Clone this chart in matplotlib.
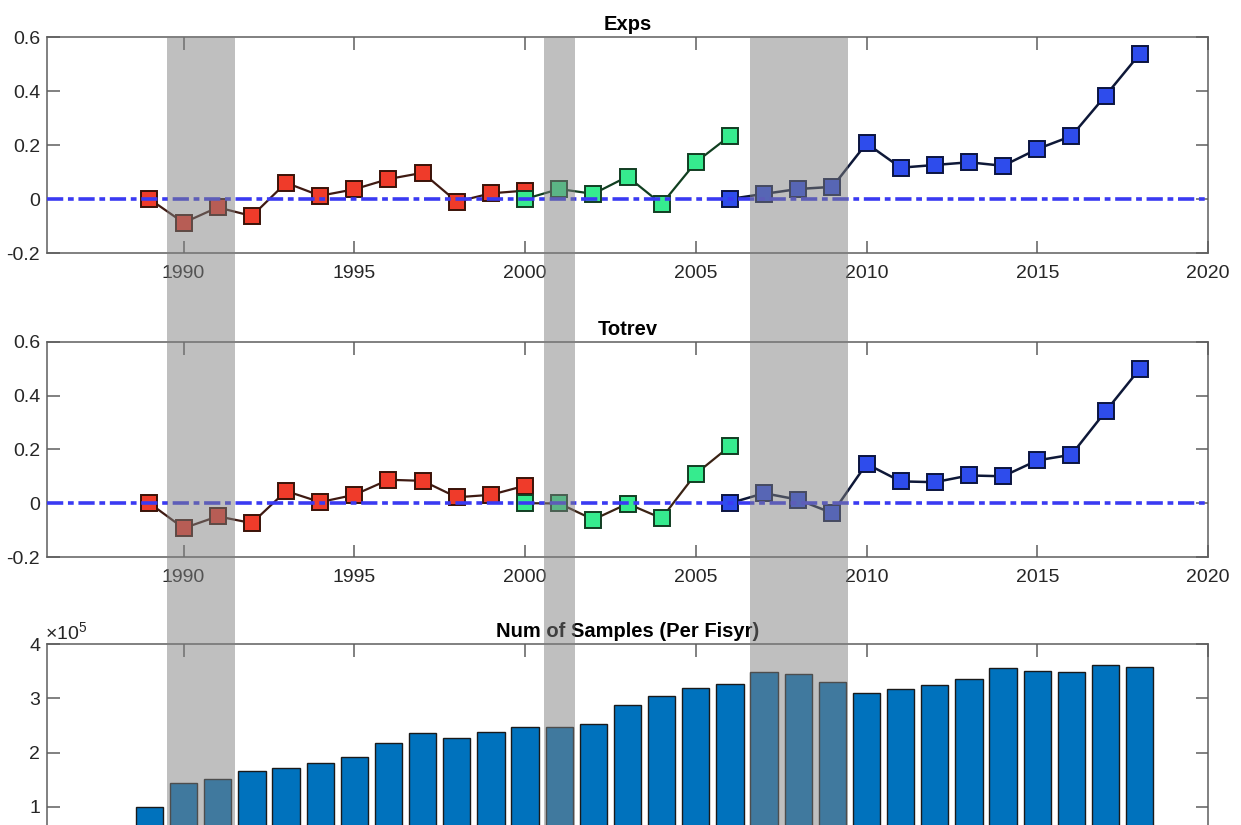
import numpy as np
import matplotlib
matplotlib.use('Agg')
import matplotlib.pyplot as plt
from matplotlib.patches import Rectangle
from matplotlib.transforms import blended_transform_factory
from matplotlib.ticker import FixedLocator, FuncFormatter

plt.rcParams['font.family'] = ['Liberation Sans', 'DejaVu Sans']
plt.rcParams['mathtext.fontset'] = 'custom'
plt.rcParams['mathtext.rm'] = 'Liberation Sans'
plt.rcParams['mathtext.it'] = 'Liberation Sans'

# fiscal years for each regime
yrs_red = list(range(1989, 2001))
yrs_green = list(range(2000, 2007))
yrs_blue = list(range(2006, 2019))

exps_red = [0.0, -0.088, -0.031, -0.063, 0.060, 0.012, 0.036, 0.074, 0.097, -0.010, 0.021, 0.031]
exps_green = [0.0, 0.037, 0.019, 0.083, -0.019, 0.136, 0.234]
exps_blue = [0.0, 0.019, 0.037, 0.045, 0.206, 0.116, 0.126, 0.136, 0.123, 0.185, 0.233, 0.383, 0.537]

totrev_red = [0.0, -0.093, -0.049, -0.074, 0.045, 0.004, 0.031, 0.087, 0.083, 0.022, 0.031, 0.065]
totrev_green = [0.0, -0.001, -0.061, -0.002, -0.056, 0.109, 0.212]
totrev_blue = [0.0, 0.037, 0.013, -0.037, 0.146, 0.081, 0.078, 0.103, 0.100, 0.159, 0.180, 0.341, 0.499]

sample_years = list(range(1989, 2019))
num_samples = [100000, 143000, 152000, 165000, 172000, 180000, 192000, 218000, 237000, 227000,
               238000, 247000, 247000, 253000, 288000, 305000, 319000, 326000, 349000, 345000,
               330000, 310000, 317000, 324000, 335000, 356000, 351000, 349000, 361000, 358000]

# recession periods
recessions = [(1989.5, 1991.5), (2000.55, 2001.45), (2006.6, 2009.45)]

W, H = 1241, 825
fig = plt.figure(figsize=(W / 100, H / 100), dpi=100)

left = 47 / W
width = (1208 - 47) / W
def frac(top_px, bot_px):
    return [left, 1 - bot_px / H, width, (bot_px - top_px) / H]

ax1 = fig.add_axes(frac(37, 253))
ax2 = fig.add_axes(frac(341.7, 557))
ax3 = fig.add_axes(frac(644.3, 860.8))

axcol = '#5e5e5e'
txtcol = '#262626'

def style(ax):
    ax.set_xlim(1986, 2020)
    ax.xaxis.set_major_locator(FixedLocator(list(range(1990, 2021, 5))))
    for s in ax.spines.values():
        s.set_color(axcol)
        s.set_linewidth(1.1)
    ax.tick_params(direction='in', length=9, width=1.1, color=axcol, labelcolor=txtcol,
                   labelsize=14, top=True, right=True)
    ax.tick_params(axis='x', pad=9)
    ax.tick_params(axis='y', pad=5)

def fmt(v, pos):
    s = ('%g' % round(v, 3))
    return '0' if s in ('0', '-0') else s

def draw_panel(ax, red, green, blue, title, green_line):
    style(ax)
    ax.plot(yrs_red, red, '-s', color='#3f1a12', lw=1.6, ms=11,
            mfc='#ef3b2a', mec='#3a1208', mew=1.4, zorder=3)
    ax.plot(yrs_green, green, '-s', color=green_line, lw=1.6, ms=11,
            mfc='#36eb8e', mec='#123d22', mew=1.4, zorder=3)
    ax.plot(yrs_blue, blue, '-s', color='#0e1838', lw=1.8, ms=11,
            mfc='#2e4cec', mec='#0b1440', mew=1.4, zorder=3)
    ax.axhline(0, color='#3a3af2', lw=2.6, ls=(0, (4.5, 1.3, 1.6, 1.3)), zorder=4)
    ax.set_ylim(-0.2, 0.6)
    ax.yaxis.set_major_locator(FixedLocator([-0.2, 0, 0.2, 0.4, 0.6]))
    ax.yaxis.set_major_formatter(FuncFormatter(fmt))
    ax.set_title(title, fontsize=14.5, fontweight='bold', color='black', pad=5)

draw_panel(ax1, exps_red, exps_green, exps_blue, 'Exps', '#103f20')
draw_panel(ax2, totrev_red, totrev_green, totrev_blue, 'Totrev', '#3a2214')

# sample counts per fiscal year (bottom of this panel falls below the page)
style(ax3)
ax3.tick_params(axis='x', labelbottom=False)
ax3.bar(sample_years, num_samples, width=0.8, color='#0072bd', edgecolor='#1a1a1a', lw=1.0)
ax3.set_ylim(0, 400000)
ax3.yaxis.set_major_locator(FixedLocator([100000, 200000, 300000, 400000]))
ax3.yaxis.set_major_formatter(FuncFormatter(lambda v, p: '%g' % (v / 1e5)))
ax3.text(-0.002, 1.005, r'$\times10^{5}$', transform=ax3.transAxes, ha='left', va='bottom',
         fontsize=14, color=txtcol)
ax3.set_title('Num of Samples (Per Fisyr)', fontsize=14.5, fontweight='bold', color='black', pad=5)

# shaded recessions across all panels
trans = blended_transform_factory(ax1.transData, fig.transFigure)
band_top = 1 - 37 / H
for x0, x1 in recessions:
    r = Rectangle((x0, 0), x1 - x0, band_top, transform=trans,
                  facecolor='#808080', edgecolor='none', alpha=0.5, zorder=10)
    fig.add_artist(r)

fig.savefig('out.png', dpi=100)
